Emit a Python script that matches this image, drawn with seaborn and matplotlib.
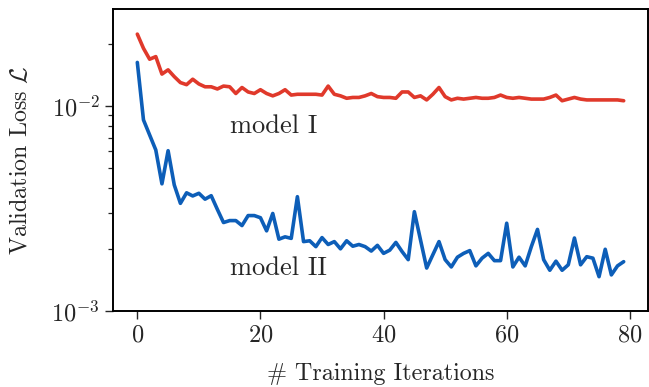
import numpy as np
import pandas as pd
import matplotlib
matplotlib.use("Agg")
import matplotlib.pyplot as plt
import seaborn as sns

iterations = list(range(80))
model_1 = [0.0224, 0.0191, 0.0169, 0.0174, 0.0143, 0.0150, 0.0139, 0.0130, 0.0127, 0.0135,
           0.0128, 0.0124, 0.0124, 0.0121, 0.0125, 0.0124, 0.0115, 0.0123, 0.0117, 0.0115,
           0.0120, 0.0115, 0.0112, 0.0115, 0.0120, 0.0113, 0.0114, 0.0114, 0.0114, 0.0114,
           0.0113, 0.0125, 0.0114, 0.0112, 0.0109, 0.0110, 0.0110, 0.0112, 0.0115, 0.0111,
           0.0110, 0.0110, 0.0109, 0.0117, 0.0117, 0.0110, 0.0112, 0.0107, 0.0114, 0.0123,
           0.0111, 0.0107, 0.0109, 0.0108, 0.0109, 0.0110, 0.0109, 0.0109, 0.0110, 0.0113,
           0.0110, 0.0109, 0.0110, 0.0109, 0.0108, 0.0108, 0.0108, 0.0110, 0.0113, 0.0106,
           0.0108, 0.0110, 0.0108, 0.0107, 0.0107, 0.0107, 0.0107, 0.0107, 0.0107, 0.0106]
model_2 = [0.0163, 0.00855, 0.00722, 0.00610, 0.00417, 0.00605, 0.00412, 0.00335, 0.00377, 0.00364,
           0.00375, 0.00351, 0.00365, 0.00313, 0.00270, 0.00276, 0.00276, 0.00261, 0.00292, 0.00292,
           0.00285, 0.00246, 0.00299, 0.00224, 0.00230, 0.00226, 0.00361, 0.00218, 0.00220, 0.00206,
           0.00228, 0.00211, 0.00218, 0.00201, 0.00220, 0.00207, 0.00211, 0.00206, 0.00196, 0.00209,
           0.00191, 0.00198, 0.00216, 0.00195, 0.00178, 0.00305, 0.00222, 0.00162, 0.00188, 0.00218,
           0.00178, 0.00164, 0.00183, 0.00191, 0.00197, 0.00166, 0.00181, 0.00191, 0.00176, 0.00176,
           0.00268, 0.00164, 0.00183, 0.00166, 0.00206, 0.00250, 0.00178, 0.00158, 0.00175, 0.00158,
           0.00168, 0.00227, 0.00168, 0.00184, 0.00181, 0.00147, 0.00200, 0.00150, 0.00166, 0.00174]
series_names = ["model I", "model II"]
x_ticks = [0, 20, 40, 60, 80]

df = pd.DataFrame({
    "iter": iterations * 2,
    "loss": model_1 + model_2,
    "model": [series_names[0]] * len(model_1) + [series_names[1]] * len(model_2),
})

sns.set_theme(style="ticks")
plt.rcParams["font.family"] = ["cmr10", "DejaVu Serif"]
plt.rcParams["mathtext.fontset"] = "cm"
plt.rcParams["axes.formatter.use_mathtext"] = True
plt.rcParams["axes.unicode_minus"] = True

fig = plt.figure(figsize=(6.49, 3.87), dpi=100)
ax = fig.add_axes([113 / 649, 1 - 311 / 387, (648 - 113) / 649, (311 - 9) / 387])

palette = {"model I": "#E0392B", "model II": "#0D5EB8"}
sns.lineplot(data=df, x="iter", y="loss", hue="model", palette=palette,
             linewidth=2.6, ax=ax, legend=False)

ax.set_yscale("log")
ax.set_ylim(1e-3, 0.0297)
ax.set_xticks(x_ticks)
ax.set_xlabel("# Training Iterations", fontsize=17.3, labelpad=12)
ax.set_ylabel(r"Validation Loss $\mathcal{L}$", fontsize=17.3, labelpad=14)
ax.tick_params(axis="both", which="major", labelsize=17.5, length=6, width=1.0, direction="out")
ax.tick_params(axis="y", which="minor", length=3.5, width=0.9)
for s in ax.spines.values():
    s.set_linewidth(1.4)
    s.set_color("black")

ax.text(15.1, 0.00736, "model I", fontsize=19, ha="left", va="baseline")
ax.text(15.1, 0.00150, "model II", fontsize=19, ha="left", va="baseline")

fig.savefig("out.png", dpi=100)
